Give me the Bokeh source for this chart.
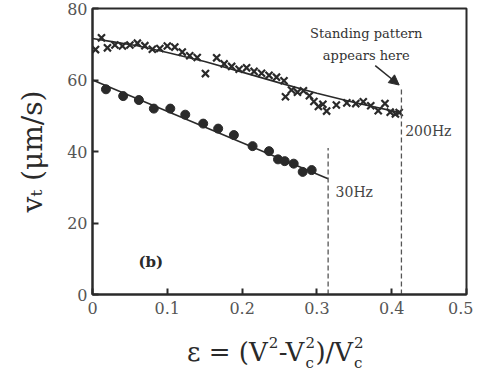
from bokeh.plotting import figure
from bokeh.models import (FixedTicker, CustomJSTickFormatter, Label, Arrow,
                          NormalHead, Range1d, Div)
from bokeh.layouts import column
from bokeh.embed import file_html
from bokeh.resources import INLINE

# ---- data ----
x_ticks = [0, 0.1, 0.2, 0.3, 0.4, 0.5]
y_ticks = [0, 20, 40, 60, 80]

eps_30 = [0.018, 0.041, 0.062, 0.082, 0.104, 0.124, 0.148, 0.168, 0.189,
          0.214, 0.236, 0.248, 0.257, 0.269, 0.281, 0.293]
vt_30 = [57.4, 55.5, 54.4, 52.0, 52.0, 50.3, 47.8, 46.4, 44.6,
         41.5, 40.1, 37.8, 37.3, 36.6, 34.3, 34.8]
fit30_x = [0.0, 0.315]
fit30_y = [60.0, 32.4]

eps_200 = [0.004, 0.012, 0.02, 0.03, 0.04, 0.05, 0.06, 0.07, 0.08, 0.09,
           0.10, 0.11, 0.12, 0.13, 0.14, 0.151, 0.166, 0.176, 0.186, 0.196,
           0.206, 0.216, 0.226, 0.236, 0.246, 0.256, 0.258, 0.266, 0.274,
           0.282, 0.29, 0.296, 0.302, 0.308, 0.313, 0.326, 0.34, 0.352,
           0.362, 0.372, 0.382, 0.391, 0.398, 0.405, 0.41]
vt_200 = [68.5, 71.8, 69.0, 69.8, 69.5, 69.8, 70.3, 69.6, 68.6, 68.8,
          69.5, 69.2, 67.8, 66.8, 66.3, 61.8, 66.2, 64.5, 63.8, 63.0,
          63.4, 62.4, 61.9, 61.3, 60.8, 59.8, 55.3, 57.2, 56.6, 57.0,
          55.6, 54.0, 52.6, 53.2, 51.3, 53.0, 53.6, 53.4, 53.9, 52.8,
          51.4, 53.4, 51.0, 50.5, 50.9]
fit200_x = [0.0, 0.03, 0.06, 0.1, 0.15, 0.2, 0.25, 0.3, 0.35, 0.413]
fit200_y = [71.6, 70.6, 69.6, 67.7, 65.2, 62.2, 59.2, 56.3, 53.7, 50.8]

onset_eps = [0.315, 0.413]
onset_top = [41.0, 58.0]

FONT = "DejaVu Serif"
INK = "#2a2a2a"

p = figure(width=473, height=328, output_backend="svg", toolbar_location=None,
           x_range=Range1d(0, 0.5), y_range=Range1d(0, 80),
           min_border_left=92, min_border_right=7, min_border_top=8,
           min_border_bottom=34)
p.xgrid.visible = False
p.ygrid.visible = False
p.outline_line_color = INK
p.outline_line_width = 2
p.background_fill_color = "white"
p.border_fill_color = "white"

for ax in (p.xaxis[0], p.yaxis[0]):
    ax.axis_line_color = INK
    ax.axis_line_width = 2
    ax.major_tick_in = 6
    ax.major_tick_out = 0
    ax.major_tick_line_color = INK
    ax.major_tick_line_width = 2
    ax.minor_tick_line_color = None
    ax.major_label_text_font = FONT
    ax.major_label_text_font_size = "16px"
    ax.major_label_text_color = "#555555"
    ax.formatter = CustomJSTickFormatter(code="return tick.toString();")

p.xaxis.ticker = FixedTicker(ticks=x_ticks)
p.yaxis.ticker = FixedTicker(ticks=y_ticks)
p.xaxis.major_label_standoff = 7
p.yaxis.major_label_standoff = 5

p.yaxis.axis_label = "vₜ (μm/s)"
p.yaxis.axis_label_text_font = FONT
p.yaxis.axis_label_text_font_style = "normal"
p.yaxis.axis_label_text_font_size = "28px"
p.yaxis.axis_label_text_color = INK
p.yaxis.axis_label_standoff = 15

# fits
p.line(fit30_x, fit30_y, line_color=INK, line_width=1.6)
p.line(fit200_x, fit200_y, line_color=INK, line_width=1.6)

# data
p.scatter(eps_30, vt_30, marker="circle", size=9, fill_color=INK, line_color=INK)
p.scatter(eps_200, vt_200, marker="x", size=10, line_color=INK, line_width=2.2)

# onset dashed lines
p.segment(x0=onset_eps, y0=[0, 0], x1=onset_eps, y1=onset_top,
          line_color="#555555", line_width=1.3, line_dash="5 3")

# annotations
p.add_layout(Label(x=0.325, y=26.5, text="30Hz", text_font=FONT,
                   text_font_size="14px", text_color="#444444"))
p.add_layout(Label(x=0.418, y=43.5, text="200Hz", text_font=FONT,
                   text_font_size="14px", text_color="#444444"))
p.add_layout(Label(x=0.078, y=9.2, text="(b)", text_font=FONT,
                   text_font_size="15px", text_font_style="bold",
                   text_color=INK, text_align="center", text_baseline="middle"))
p.add_layout(Label(x=0.366, y=73.0, text="Standing pattern",
                   text_font=FONT, text_font_size="13px", text_color="#333333",
                   text_align="center", text_baseline="middle"))
p.add_layout(Label(x=0.366, y=66.9, text="appears here",
                   text_font=FONT, text_font_size="13px", text_color="#333333",
                   text_align="center", text_baseline="middle"))
p.add_layout(Arrow(end=NormalHead(size=10, fill_color=INK, line_color=INK),
                   x_start=0.378, y_start=64.0, x_end=0.410, y_end=58.6,
                   line_color=INK, line_width=1.5))

# x-axis label as real HTML text, with stacked super/subscripts
def scripts(sup, sub=None):
    s = ('<span style="position:relative;display:inline-block;width:11px;height:0">'
         '<span style="position:absolute;left:1px;top:-26px;font-size:15px;'
         'line-height:17px">' + sup + '</span>')
    if sub:
        s += ('<span style="position:absolute;left:1px;top:-6px;font-size:15px;'
              'line-height:17px">' + sub + '</span>')
    return s + '</span>'

xlabel_html = (
    '<div style="font-family:\'DejaVu Serif\';font-size:26px;color:#2a2a2a;'
    'white-space:nowrap;padding-left:187px;padding-top:6px">'
    'ε = (V' + scripts("2") + '-V' + scripts("2", "c") + ')/V' +
    scripts("2", "c") + '</div>')
div = Div(text=xlabel_html, width=473, height=45, margin=(0, 0, 0, 0))

open("out.html", "w").write(file_html(column(p, div, spacing=0), INLINE))
